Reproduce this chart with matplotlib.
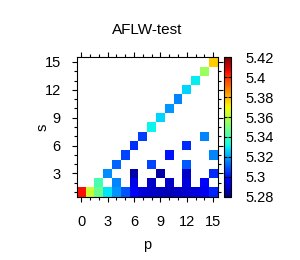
import numpy as np
import matplotlib
matplotlib.use("Agg")
import matplotlib.pyplot as plt
from matplotlib.ticker import FuncFormatter, MultipleLocator

plt.rcParams['font.family'] = ['Liberation Sans', 'DejaVu Sans']

title = "AFLW-test"
p_values = list(range(16))
s_values = list(range(1, 16))

# s = 1 row: all p
s1_p = list(range(16))
s1_v = [5.405, 5.363, 5.347, 5.329, 5.318, 5.309, 5.297, 5.291,
        5.289, 5.288, 5.287, 5.289, 5.290, 5.292, 5.294, 5.302]
s2_p = [2, 4, 6, 8, 10, 12, 14]
s2_v = [5.341, 5.316, 5.293, 5.289, 5.289, 5.291, 5.296]
s3_p = [3, 6, 9, 12, 15]
s3_v = [5.317, 5.285, 5.285, 5.289, 5.303]
s4_p = [4, 8, 12]
s4_v = [5.3115, 5.307, 5.310]
s5_p = [5, 10, 15]
s5_v = [5.307, 5.300, 5.316]
s6_p = [6, 12]
s6_v = [5.304, 5.303]
s7_p = [7, 14]
s7_v = [5.306, 5.316]
# diagonal s = p for s = 8..15
diag_s = [8, 9, 10, 11, 12, 13, 14, 15]
diag_v = [5.331, 5.327, 5.318, 5.316, 5.327, 5.330, 5.355, 5.377]

vmin, vmax = 5.28, 5.42
cb_ticks = [5.28, 5.30, 5.32, 5.34, 5.36, 5.38, 5.40, 5.42]
x_ticks = [0, 3, 6, 9, 12, 15]
y_ticks = [3, 6, 9, 12, 15]

grid = np.full((len(s_values), len(p_values)), np.nan)
rows = [(1, s1_p, s1_v), (2, s2_p, s2_v), (3, s3_p, s3_v), (4, s4_p, s4_v),
        (5, s5_p, s5_v), (6, s6_p, s6_v), (7, s7_p, s7_v)]
for s, ps, vs in rows:
    for p, v in zip(ps, vs):
        grid[s - 1, p] = v
for s, v in zip(diag_s, diag_v):
    grid[s - 1, s] = v

fig = plt.figure(figsize=(3.0, 2.6), dpi=100)
ax = fig.add_axes([0.2557, 0.2435, 0.47, 0.536])
cax = fig.add_axes([0.7467, 0.2435, 0.0243, 0.536])

masked = np.ma.masked_invalid(grid)
im = ax.pcolormesh(np.arange(-0.5, 16, 1), np.arange(0.5, 16, 1), masked,
                   cmap='jet', vmin=vmin, vmax=vmax, shading='flat')
ax.set_xlim(-0.5, 15.5)
ax.set_ylim(0.5, 15.5)
ax.set_xticks(x_ticks)
ax.set_yticks(y_ticks)
ax.xaxis.set_minor_locator(MultipleLocator(1))
ax.yaxis.set_minor_locator(MultipleLocator(1))
ax.tick_params(which='both', direction='out', top=True, right=True,
               width=0.8, labelsize=10.5)
ax.tick_params(which='major', length=3.5)
ax.tick_params(which='minor', length=2)
ax.tick_params(axis='x', which='both', pad=9.5)
ax.tick_params(axis='y', which='both', pad=8)
for sp in ax.spines.values():
    sp.set_linewidth(0.8)
ax.set_xlabel('p', fontsize=10.5)
ax.xaxis.set_label_coords(0.5, -0.30)
ax.set_ylabel('s', fontsize=10.5, rotation=90)
ax.yaxis.set_label_coords(-0.19, 0.5)
ax.set_title(title, fontsize=11, pad=17)

cb = fig.colorbar(im, cax=cax, ticks=cb_ticks)
cb.ax.yaxis.set_major_formatter(FuncFormatter(lambda v, _: '%g' % round(v, 2)))
cb.ax.tick_params(direction='in', left=True, right=True, length=2.5,
                  width=0.8, labelsize=10.5, pad=10)
cb.outline.set_linewidth(0.8)

fig.savefig('out.png', dpi=100)
